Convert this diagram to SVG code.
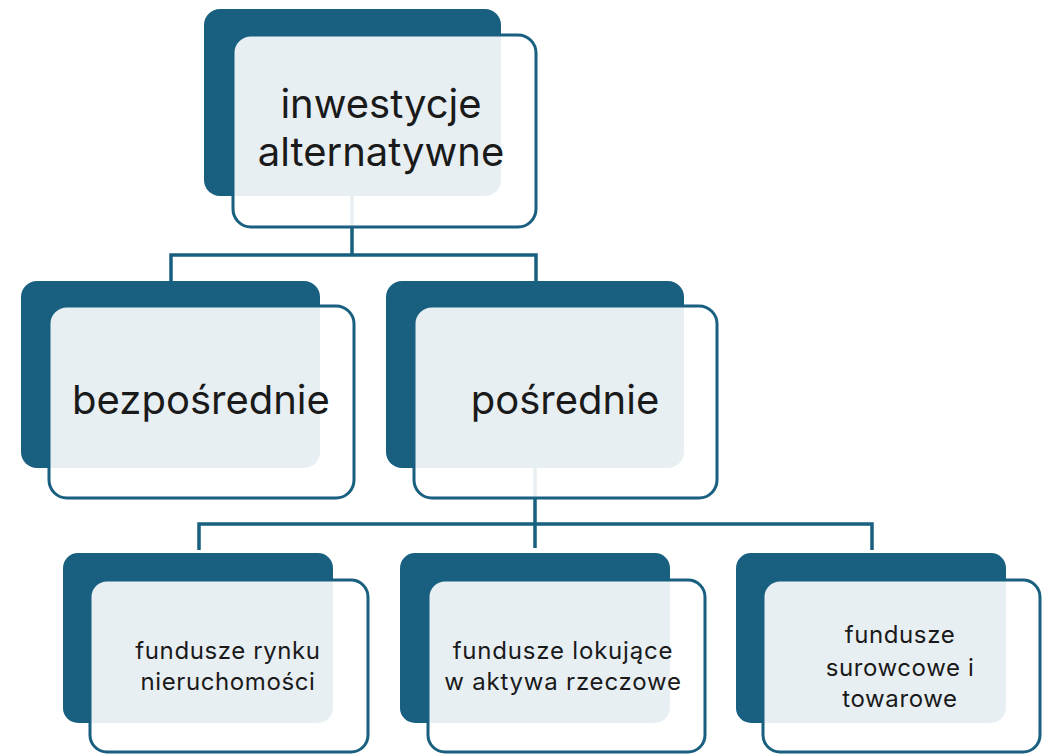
<svg xmlns="http://www.w3.org/2000/svg" width="1048" height="754" viewBox="0 0 1048 754">
<style>
.back{fill:#185f80}
.front{fill:#ffffff;fill-opacity:0.9;stroke:#185f80;stroke-width:3}
.conn{fill:none;stroke:#185f80;stroke-width:3.5}
text{font-family:Inter,"Noto Sans","Liberation Sans",sans-serif;fill:#1a1a1a;text-anchor:middle}
.t1{font-size:40px}
.t2{font-size:40px}
.t3{font-size:24px;letter-spacing:0.6px}
</style>
<rect width="1048" height="754" fill="#ffffff"/>
<g id="connectors">
<path class="conn" d="M352 196V255M171 281V255H536V281"/>
<path class="conn" d="M535 468V548M199 550V524H872V550"/>
</g>
<g id="n-root">
<rect class="back" x="204" y="9" width="297" height="187" rx="16"/>
<rect class="front" x="233" y="35" width="303" height="192" rx="18"/>
<text class="t1" x="381" y="118">inwestycje</text>
<text class="t1" x="381" y="166">alternatywne</text>
</g>
<g id="n-bezposrednie">
<rect class="back" x="21" y="281" width="299" height="187" rx="16"/>
<rect class="front" x="49" y="306" width="305" height="192" rx="18"/>
<text class="t2" x="201" y="414">bezpośrednie</text>
</g>
<g id="n-posrednie">
<rect class="back" x="386" y="281" width="298" height="187" rx="16"/>
<rect class="front" x="414" y="306" width="303" height="192" rx="18"/>
<text class="t2" x="565" y="414">pośrednie</text>
</g>
<g id="n-nieruchomosci">
<rect class="back" x="63" y="553" width="270" height="170" rx="15"/>
<rect class="front" x="90" y="580" width="278" height="172" rx="17"/>
<text class="t3" x="228" y="659">fundusze rynku</text>
<text class="t3" x="228" y="690">nieruchomości</text>
</g>
<g id="n-rzeczowe">
<rect class="back" x="400" y="553" width="270" height="170" rx="15"/>
<rect class="front" x="428" y="580" width="277" height="172" rx="17"/>
<text class="t3" x="563" y="659" style="letter-spacing:0.8px">fundusze lokujące</text>
<text class="t3" x="563" y="690" style="letter-spacing:0.8px">w aktywa rzeczowe</text>
</g>
<g id="n-surowcowe">
<rect class="back" x="736" y="553" width="270" height="170" rx="15"/>
<rect class="front" x="763" y="580" width="277" height="172" rx="17"/>
<text class="t3" x="900" y="643">fundusze</text>
<text class="t3" x="900" y="676">surowcowe i</text>
<text class="t3" x="900" y="707">towarowe</text>
</g>
</svg>
